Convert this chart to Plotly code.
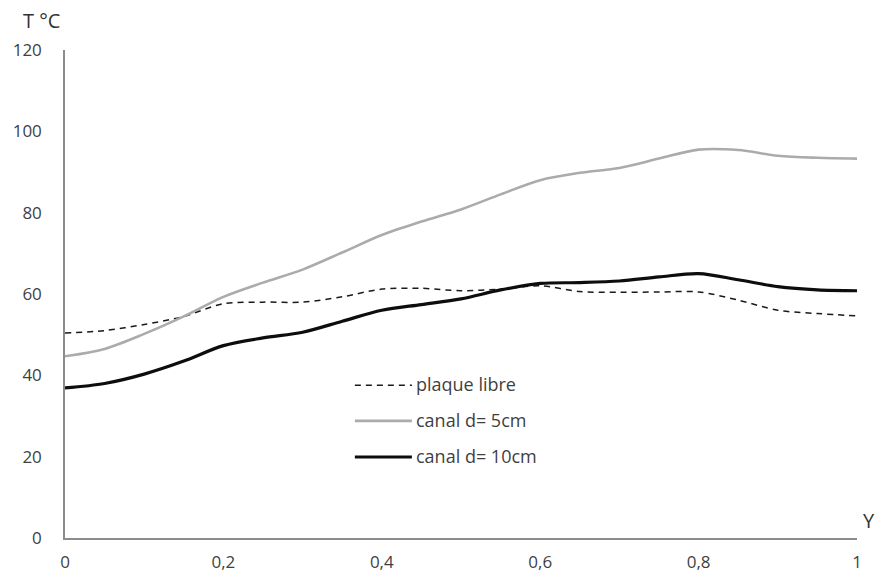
import plotly.graph_objects as go

# Position along the plate (dimensionless) and temperature readings (°C)
y_pos = [0.0, 0.05, 0.1, 0.15, 0.2, 0.25, 0.3, 0.35, 0.4, 0.45, 0.5, 0.55,
         0.6, 0.65, 0.7, 0.75, 0.8, 0.85, 0.9, 0.95, 1.0]

plaque_libre = [50.4, 51.0, 52.5, 54.5, 57.6, 58.0, 58.0, 59.3, 61.2, 61.4, 60.8, 61.2,
                62.0, 60.6, 60.4, 60.5, 60.5, 58.5, 56.0, 55.2, 54.6]
canal_5cm = [44.7, 46.5, 50.2, 54.5, 59.3, 62.8, 66.0, 70.2, 74.5, 77.8, 80.8, 84.5,
             88.0, 89.8, 91.0, 93.3, 95.5, 95.4, 94.0, 93.5, 93.3]
canal_10cm = [36.9, 38.0, 40.3, 43.5, 47.3, 49.2, 50.6, 53.3, 56.0, 57.4, 58.8, 61.0,
              62.6, 62.8, 63.2, 64.2, 65.0, 63.5, 61.8, 61.0, 60.8]

x_ticks = [0, 0.2, 0.4, 0.6, 0.8, 1]
x_labels = ["0", "0,2", "0,4", "0,6", "0,8", "1"]
y_ticks = [0, 20, 40, 60, 80, 100, 120]

names = ["plaque libre", "canal d= 5cm", "canal d= 10cm"]
styles = [
    dict(color="#1a1a1a", width=1.5, dash="6px,5px"),
    dict(color="#ababab", width=2.6),
    dict(color="#0d0d0d", width=3.2),
]
series = [plaque_libre, canal_5cm, canal_10cm]

fig = go.Figure()
for name, vals, st in zip(names, series, styles):
    fig.add_trace(go.Scatter(
        x=y_pos, y=vals, mode="lines", name=name,
        line=dict(shape="spline", smoothing=0.9, **st),
        showlegend=False, hoverinfo="skip",
    ))

font_family = "Open Sans, Noto Sans, sans-serif"
tick_color = "#3f3f3f"

# hand-placed legend: line samples plus labels
legend_rows = [0.313, 0.240, 0.166]
for name, st, yr in zip(names, styles, legend_rows):
    fig.add_shape(type="line", xref="paper", yref="paper",
                  x0=0.366, x1=0.438, y0=yr, y1=yr,
                  line=dict(color=st["color"], width=st["width"],
                            dash=st.get("dash", "solid")))
    fig.add_annotation(xref="paper", yref="paper", x=0.441, y=yr + 0.002,
                       text=name, showarrow=False, xanchor="left", yanchor="middle",
                       font=dict(family=font_family, size=18, color=tick_color))

# axis titles
fig.add_annotation(xref="paper", yref="paper", x=-0.056, y=1.0, yshift=30,
                   text="T °C", showarrow=False, xanchor="left", yanchor="middle",
                   font=dict(family=font_family, size=20, color="#333333"))
fig.add_annotation(xref="paper", yref="paper", x=1.0, y=0.0, xshift=12, yshift=18,
                   text="Y", showarrow=False, xanchor="center", yanchor="middle",
                   font=dict(family=font_family, size=20, color="#333333"))

fig.update_layout(
    width=880, height=576,
    margin=dict(l=65, r=23, t=50, b=38, autoexpand=False),
    paper_bgcolor="white", plot_bgcolor="white",
    font=dict(family=font_family, size=17, color=tick_color),
    xaxis=dict(range=[0, 1], tickvals=x_ticks, ticktext=x_labels,
               showgrid=False, zeroline=False, showline=True,
               linecolor="#8c8c8c", linewidth=1.5, ticks="",
               ticklabelstandoff=8, automargin=False, fixedrange=True),
    yaxis=dict(range=[0, 120], tickvals=y_ticks,
               showgrid=False, zeroline=False, showline=True,
               linecolor="#8c8c8c", linewidth=1.5, ticks="",
               ticklabelstandoff=18, automargin=False, fixedrange=True),
)

fig.write_html("out.html")
